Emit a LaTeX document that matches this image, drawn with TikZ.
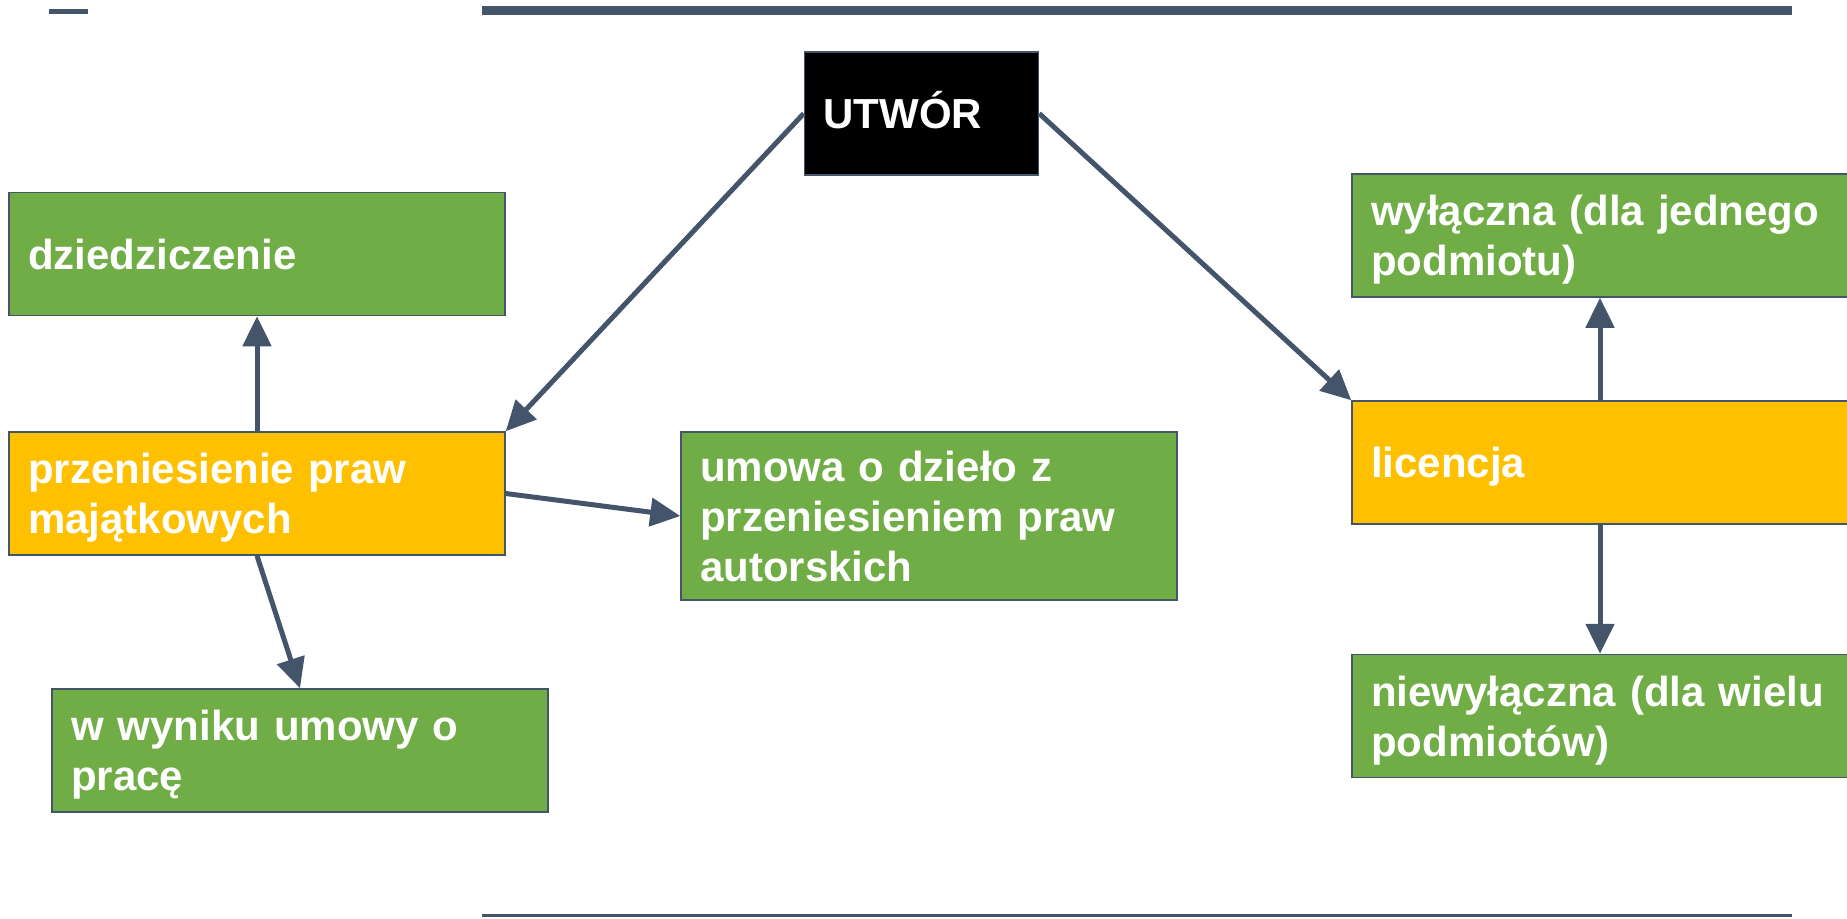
\documentclass[tikz,border=0pt]{standalone}
\usepackage{fontspec}
\setmainfont{Liberation Sans}
\usetikzlibrary{arrows.meta}

\definecolor{slate}{HTML}{44546A}
\definecolor{leafgreen}{HTML}{70AD47}
\definecolor{amber}{HTML}{FFC000}

% fixed line box for the text in the boxes
\newcommand\boxstrut{\rule[-5pt]{0pt}{25pt}}

\tikzset{
  box/.style={draw=slate, line width=0.75pt, rectangle, text=white,
    font=\bfseries\fontsize{21pt}{25pt}\selectfont,
    align=left, inner xsep=9.5pt, inner ysep=0pt,
    text width=229pt, minimum height=61.5pt,
    execute at begin node=\boxstrut, execute at end node=\boxstrut},
  greenbox/.style={box, fill=leafgreen},
  amberbox/.style={box, fill=amber},
  link/.style={draw=slate, line width=2.5pt, -{Triangle[length=15pt,width=14pt]}}
}

\begin{document}
\begin{tikzpicture}[x=0.5pt,y=0.5pt]
\useasboundingbox (0,0) rectangle (1847,-918);
% rules at top and bottom
\draw [slate, line width=2.5pt] (49,-11) -- (88,-11);
\draw [slate, line width=4.5pt] (482,-10) -- (1792,-10);
\draw [slate, line width=1.5pt] (482,-915) -- (1792,-915);
% boxes
\node [box, fill=black, text width=98pt] (utwor) at (921.5,-113.5) {UTWÓR};
\node [greenbox] (dziedz) at (257,-254) {dziedziczenie};
\node [amberbox] (przen) at (257,-493.5) {przeniesienie praw\\majątkowych};
\node [greenbox] (praca) at (300,-750.5) {w wyniku umowy o\\pracę};
\node [greenbox, minimum height=84pt] (dzielo) at (929,-516) {umowa o dzieło z\\przeniesieniem praw\\autorskich};
\node [greenbox] (wylaczna) at (1600,-235.5) {wyłączna (dla jednego\\podmiotu)};
\node [amberbox] (licencja) at (1600,-462.5) {licencja};
\node [greenbox] (niewyl) at (1600,-716) {niewyłączna (dla wielu\\podmiotów)};
% arrows
\draw [link] (utwor.west) -- (przen.north east);
\draw [link] (utwor.east) -- (licencja.north west);
\draw [link] (przen.north) -- (dziedz.south);
\draw [link] (przen.east) -- (dzielo.west);
\draw [link] (przen.south) -- (praca.north);
\draw [link] (licencja.north) -- (wylaczna.south);
\draw [link] (licencja.south) -- (niewyl.north);
\end{tikzpicture}
\end{document}
